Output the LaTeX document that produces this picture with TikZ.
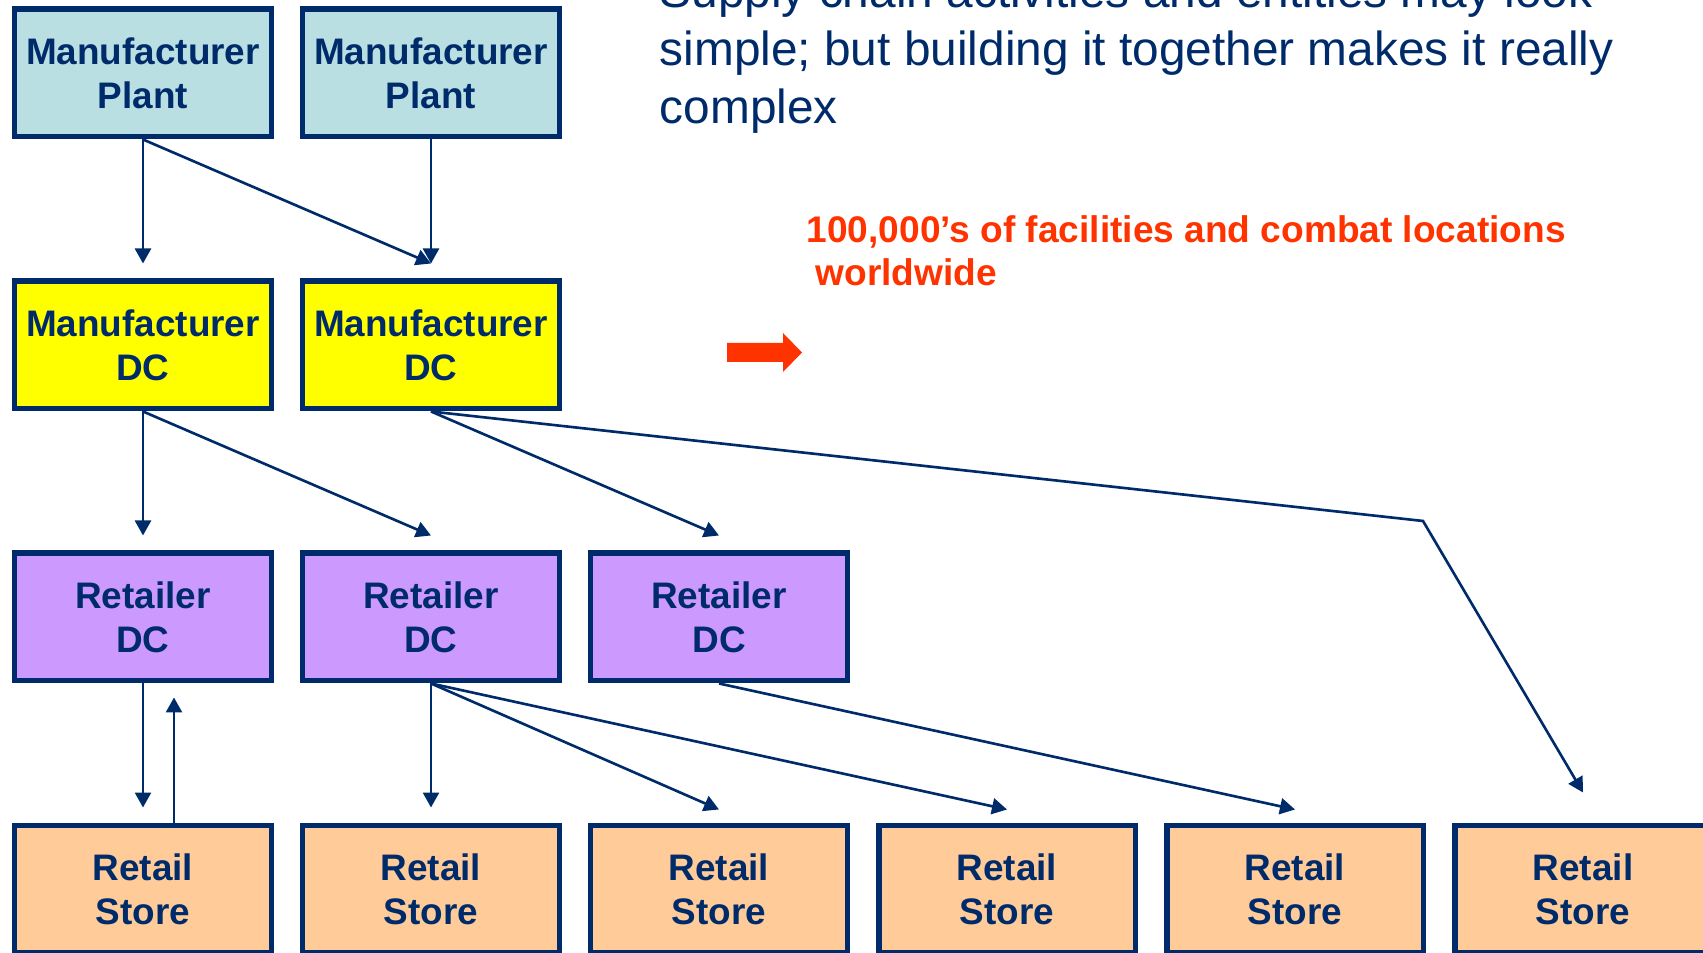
\documentclass[tikz,border=0pt]{standalone}
\usepackage{fontspec}
\setmainfont{Liberation Sans}
\usetikzlibrary{arrows.meta}
\definecolor{navy}{RGB}{0,43,107}
\definecolor{plantblue}{RGB}{185,223,226}
\definecolor{dcyellow}{RGB}{255,255,0}
\definecolor{retlilac}{RGB}{204,153,255}
\definecolor{storepeach}{RGB}{255,204,153}
\definecolor{alertred}{RGB}{255,51,0}
\tikzset{
	unit/.style={draw=navy, line width=1.56pt, text=navy, minimum width=2.565cm, minimum height=1.275cm, inner sep=0pt, align=center, font={\fontsize{10.5}{12.6}\selectfont\bfseries}},
	plant/.style={unit, fill=plantblue},
	mfrdc/.style={unit, fill=dcyellow},
	retdc/.style={unit, fill=retlilac},
	store/.style={unit, fill=storepeach},
	flow/.style={draw=navy, line width=0.75pt, -{Triangle[width=1.6mm,length=1.5mm]}}
}

\begin{document}
\begin{tikzpicture}
		%%%%% START %%%%%
		\useasboundingbox (0, 0) rectangle (17.03, 9.53);
		
		\node[anchor=base west, align=left, inner sep=0pt, text=navy, font={\fontsize{13.6}{16.6}\selectfont}] (title) at (6.59, 8.29) {Supply chain activities and entities may look\\simple; but building it together makes it really\\complex};
		\node[anchor=base west, align=left, inner sep=0pt, text=alertred, font={\fontsize{10.55}{12.5}\selectfont\bfseries}] (note) at (8.06, 6.67) {100,000’s of facilities and combat locations\\\hspace*{0.9mm}worldwide};
		\fill[alertred] (7.27, 6.10) -- (7.83, 6.10) -- (7.83, 6.20) -- (8.02, 6.005) -- (7.83, 5.81) -- (7.83, 5.91) -- (7.27, 5.91) -- cycle;
		
		\node[plant] (plant1) at (1.43, 8.80) {Manufacturer\\Plant};
		\node[plant] (plant2) at (4.31, 8.80) {Manufacturer\\Plant};
		
		\node[mfrdc] (mdc1) at (1.43, 6.08) {Manufacturer\\DC};
		\node[mfrdc] (mdc2) at (4.31, 6.08) {Manufacturer\\DC};
		
		\node[retdc] (rdc1) at (1.43, 3.36) {Retailer\\DC};
		\node[retdc] (rdc2) at (4.31, 3.36) {Retailer\\DC};
		\node[retdc] (rdc3) at (7.19, 3.36) {Retailer\\DC};
		
		\node[store] (rs1) at (1.43, 0.64) {Retail\\Store};
		\node[store] (rs2) at (4.31, 0.64) {Retail\\Store};
		\node[store] (rs3) at (7.19, 0.64) {Retail\\Store};
		\node[store] (rs4) at (10.07, 0.64) {Retail\\Store};
		\node[store] (rs5) at (12.95, 0.64) {Retail\\Store};
		\node[store] (rs6) at (15.83, 0.64) {Retail\\Store};
		
		\coordinate (bend) at (14.23, 4.32);
		
		\draw[flow] (plant1.south) -- ([yshift=1.5mm]mdc1.north);
		\draw[flow] (plant1.south) -- ([yshift=1.5mm]mdc2.north);
		\draw[flow] (plant2.south) -- ([yshift=1.5mm]mdc2.north);
		
		\draw[flow] (mdc1.south) -- ([yshift=1.5mm]rdc1.north);
		\draw[flow] (mdc1.south) -- ([yshift=1.5mm]rdc2.north);
		\draw[flow] (mdc2.south) -- ([yshift=1.5mm]rdc3.north);
		\draw[flow] (mdc2.south) -- (bend) -- ([yshift=3mm]rs6.north);
		
		\draw[flow] (rdc1.south) -- ([yshift=1.5mm]rs1.north);
		\draw[flow] ([xshift=3.1mm]rs1.north) -- ([xshift=3.1mm, yshift=-1.4mm]rdc1.south);
		\draw[flow] (rdc2.south) -- ([yshift=1.5mm]rs2.north);
		\draw[flow] (rdc2.south) -- ([yshift=1.3mm]rs3.north);
		\draw[flow] (rdc2.south) -- ([yshift=1.3mm]rs4.north);
		\draw[flow] (rdc3.south) -- ([yshift=1.3mm]rs5.north);
		%%%%% END %%%%%
\end{tikzpicture}
\end{document}
